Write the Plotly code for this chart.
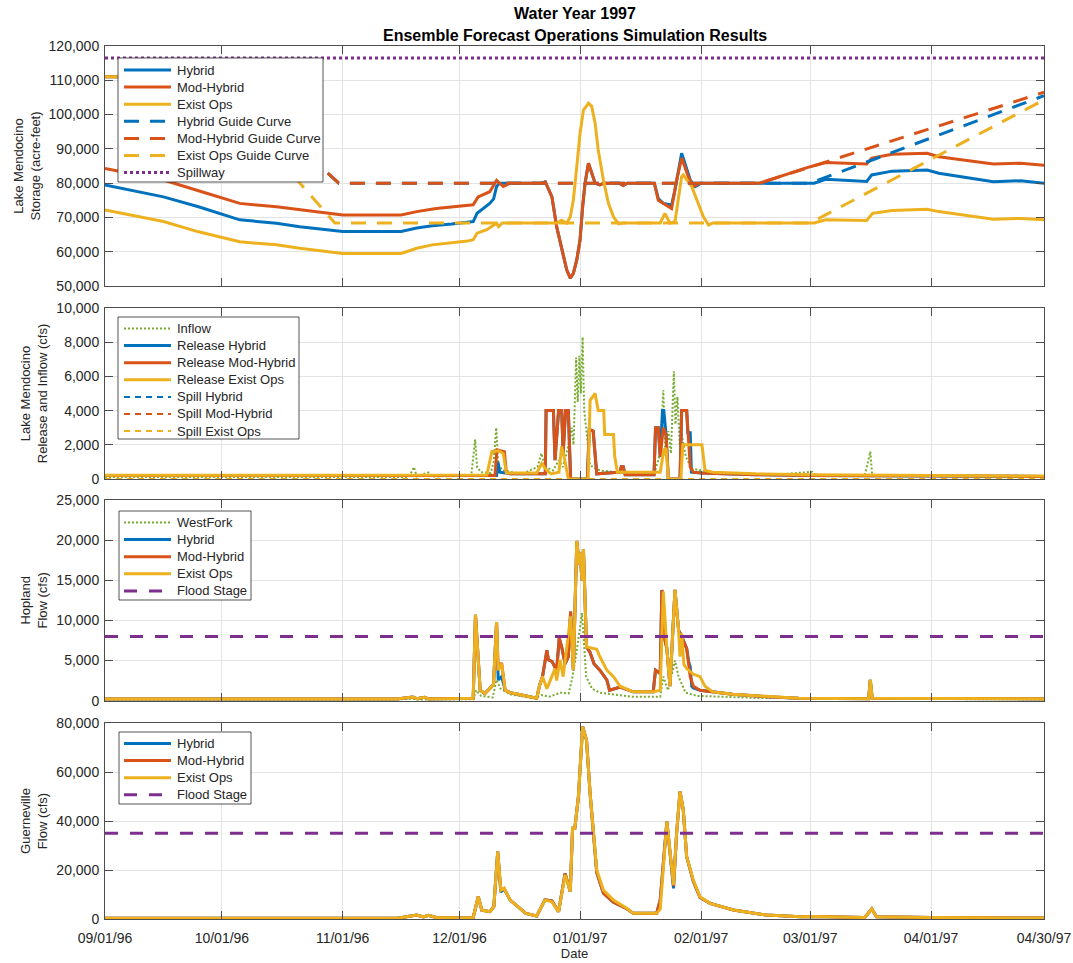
import plotly.graph_objects as go
from plotly.subplots import make_subplots

# ---------------------------------------------------------------- colours
BLUE = "#0072BD"
ORANGE = "#D95319"
YELLOW = "#EDB120"
PURPLE = "#7E2F8E"
GREEN = "#77AC30"

# ---------------------------------------------------------------- axis ticks
DATE_TICKS = ["1996-09-01", "1996-10-01", "1996-11-01", "1996-12-01", "1997-01-01",
              "1997-02-01", "1997-03-01", "1997-04-01", "1997-04-30"]
DATE_LABELS = ["09/01/96", "10/01/96", "11/01/96", "12/01/96", "01/01/97",
               "02/01/97", "03/01/97", "04/01/97", "04/30/97"]

# ---------------------------------------------------------------- Lake Mendocino storage (acre-feet)
SPILLWAY = [("1996-09-01", 116500), ("1997-04-30", 116500)]

GUIDE_HYBRID = [("1996-09-01", 111000), ("1996-10-01", 111000), ("1996-10-31", 80000),
                ("1997-03-01", 80000), ("1997-04-30", 105500)]
GUIDE_MODHYB = [("1996-09-01", 111000), ("1996-10-01", 111000), ("1996-10-31", 80000),
                ("1997-02-16", 80000), ("1997-04-30", 106500)]
GUIDE_EXIST = [("1996-09-01", 111000), ("1996-09-27", 111000), ("1996-10-30", 68400),
               ("1997-03-01", 68400), ("1997-04-30", 104300)]

STOR_HYBRID = [
    ("1996-09-01", 79500), ("1996-09-16", 76000), ("1996-09-25", 73100), ("1996-10-05 14:00", 69300),
    ("1996-10-15", 68300), ("1996-10-21", 67300), ("1996-11-01", 65900), ("1996-11-16", 65900),
    ("1996-11-20", 66900), ("1996-11-24", 67600), ("1996-11-29", 68100), ("1996-12-02", 68400),
    ("1996-12-04 12:00", 68800), ("1996-12-05 12:00", 71200), ("1996-12-07", 72500),
    ("1996-12-08 18:00", 74100), ("1996-12-09 18:00", 75400), ("1996-12-10 12:00", 79000),
    ("1996-12-11 06:00", 80000), ("1996-12-14", 80000), ("1996-12-22", 80000), ("1996-12-23", 80400),
    ("1996-12-24 17:00", 76000), ("1996-12-25 22:00", 67300), ("1996-12-27 14:00", 59500),
    ("1996-12-28 12:00", 54700), ("1996-12-29 10:00", 52300), ("1996-12-30 05:00", 53700),
    ("1996-12-31 02:00", 57600), ("1996-12-31 22:00", 63400), ("1997-01-01 14:00", 73100),
    ("1997-01-02 05:00", 80000), ("1997-01-03 02:00", 85800), ("1997-01-04", 83000),
    ("1997-01-04 19:00", 80000), ("1997-01-06", 79500), ("1997-01-07", 80000), ("1997-01-11", 80000),
    ("1997-01-12", 79300), ("1997-01-13", 80000), ("1997-01-20", 80000), ("1997-01-21", 75500),
    ("1997-01-22 07:00", 74100), ("1997-01-24 10:00", 73600), ("1997-01-25 07:00", 78000),
    ("1997-01-27", 88700), ("1997-01-29 05:00", 80900), ("1997-01-30 12:00", 79000),
    ("1997-02-01", 80000), ("1997-03-02", 80000), ("1997-03-05", 81100), ("1997-03-15 12:00", 80500),
    ("1997-03-16 19:00", 82400), ("1997-03-22", 83500), ("1997-03-31", 83800), ("1997-04-03", 82900),
    ("1997-04-17", 80400), ("1997-04-24", 80700), ("1997-04-30", 80000),
]
STOR_MODHYB = [
    ("1996-09-01", 84300), ("1996-09-16", 80900), ("1996-09-25", 77800), ("1996-10-05 14:00", 74100),
    ("1996-10-15", 73100), ("1996-10-21", 72200), ("1996-11-01", 70700), ("1996-11-16", 70700),
    ("1996-11-20", 71700), ("1996-11-25", 72600), ("1996-12-02", 73300), ("1996-12-04 12:00", 73700),
    ("1996-12-05 18:00", 76000), ("1996-12-08 18:00", 77500), ("1996-12-10 12:00", 80800),
    ("1996-12-12 05:00", 79000), ("1996-12-14", 80000), ("1996-12-22", 80000), ("1996-12-23", 80400),
    ("1996-12-24 17:00", 76000), ("1996-12-25 22:00", 67300), ("1996-12-27 14:00", 59500),
    ("1996-12-28 12:00", 54700), ("1996-12-29 10:00", 52300), ("1996-12-30 05:00", 53700),
    ("1996-12-31 02:00", 57600), ("1996-12-31 22:00", 63400), ("1997-01-01 14:00", 73100),
    ("1997-01-02 05:00", 80000), ("1997-01-03 02:00", 85800), ("1997-01-04", 83000),
    ("1997-01-04 19:00", 80000), ("1997-01-06", 79500), ("1997-01-07", 80000), ("1997-01-11", 80000),
    ("1997-01-12", 79300), ("1997-01-13", 80000), ("1997-01-20", 80000), ("1997-01-21", 75000),
    ("1997-01-23", 73600), ("1997-01-24 10:00", 72600), ("1997-01-25 17:00", 80900),
    ("1997-01-27", 87300), ("1997-01-28 17:00", 81900), ("1997-01-30", 79000),
    ("1997-01-31 17:00", 80000), ("1997-02-16", 80000), ("1997-03-01", 84800), ("1997-03-05", 86000),
    ("1997-03-15 12:00", 85600), ("1997-03-16 19:00", 87300), ("1997-03-22", 88400),
    ("1997-03-31", 88700), ("1997-04-03", 87700), ("1997-04-17", 85600), ("1997-04-24", 85800),
    ("1997-04-30", 85200),
]
STOR_EXIST = [
    ("1996-09-01", 72200), ("1996-09-16", 68800), ("1996-09-25", 65800), ("1996-10-05 14:00", 62900),
    ("1996-10-15", 62000), ("1996-10-21", 61000), ("1996-11-01", 59500), ("1996-11-16", 59500),
    ("1996-11-20", 61000), ("1996-11-24", 62000), ("1996-12-03", 63100), ("1996-12-04 12:00", 63500),
    ("1996-12-05 12:00", 65400), ("1996-12-08", 66400), ("1996-12-10 12:00", 68300),
    ("1996-12-11", 67300), ("1996-12-12", 68400), ("1996-12-26", 68400), ("1996-12-27 05:00", 69200),
    ("1996-12-28 12:00", 68300), ("1996-12-29 10:00", 70200), ("1996-12-30 05:00", 75100),
    ("1996-12-31 02:00", 84800), ("1996-12-31 22:00", 94500), ("1997-01-01 19:00", 101300),
    ("1997-01-03 02:00", 103300), ("1997-01-03 22:00", 102400), ("1997-01-04 19:00", 97500),
    ("1997-01-05 14:00", 89700), ("1997-01-06 22:00", 80900), ("1997-01-08 05:00", 74100),
    ("1997-01-09 12:00", 70200), ("1997-01-10 19:00", 68100), ("1997-01-12", 68400),
    ("1997-01-21 12:00", 68400), ("1997-01-22 17:00", 71200), ("1997-01-24", 68300),
    ("1997-01-25 07:00", 68800), ("1997-01-27", 81900), ("1997-01-27 10:00", 82400),
    ("1997-01-29 14:00", 79000), ("1997-02-01 14:00", 70200), ("1997-02-02 22:00", 67800),
    ("1997-02-04", 68400), ("1997-03-02", 68400), ("1997-03-05", 69300), ("1997-03-15 12:00", 69100),
    ("1997-03-17", 71200), ("1997-03-22", 72000), ("1997-03-31", 72400), ("1997-04-03", 71700),
    ("1997-04-17", 69500), ("1997-04-24", 69700), ("1997-04-30", 69300),
]

# ---------------------------------------------------------------- Lake Mendocino release and inflow (cfs)
INFLOW = [
    ("1996-09-01", 120), ("1996-10-01", 110), ("1996-11-01", 100), ("1996-11-18", 120),
    ("1996-11-19 08:00", 700), ("1996-11-20", 150), ("1996-11-23", 380), ("1996-11-24", 140),
    ("1996-12-04", 200), ("1996-12-05", 2300), ("1996-12-05 12:00", 700), ("1996-12-06 12:00", 400),
    ("1996-12-09", 350), ("1996-12-09 18:00", 1000), ("1996-12-10 10:00", 3000),
    ("1996-12-10 22:00", 900), ("1996-12-12", 500), ("1996-12-17", 300), ("1996-12-21", 700),
    ("1996-12-22", 1500), ("1996-12-23", 700), ("1996-12-25", 500), ("1996-12-26 12:00", 1100),
    ("1996-12-27 12:00", 700), ("1996-12-28 12:00", 1500), ("1996-12-29 19:00", 3000),
    ("1996-12-30 06:00", 2000), ("1996-12-30 22:00", 7100), ("1996-12-31 08:00", 4500),
    ("1996-12-31 18:00", 7200), ("1997-01-01 03:00", 5000), ("1997-01-01 14:00", 8300),
    ("1997-01-02 00:00", 4000), ("1997-01-02 14:00", 2600), ("1997-01-03 12:00", 800),
    ("1997-01-06", 500), ("1997-01-12", 350), ("1997-01-20", 350), ("1997-01-21 12:00", 1500),
    ("1997-01-22 07:00", 5200), ("1997-01-22 20:00", 1300), ("1997-01-23 14:00", 2800),
    ("1997-01-24 06:00", 1500), ("1997-01-25", 6300), ("1997-01-25 10:00", 3200),
    ("1997-01-25 22:00", 4800), ("1997-01-26 12:00", 2000), ("1997-01-27", 2600),
    ("1997-01-28 02:00", 1300), ("1997-01-29 14:00", 600), ("1997-02-05", 350), ("1997-02-20", 250),
    ("1997-03-01 12:00", 420), ("1997-03-02 12:00", 200), ("1997-03-15", 200),
    ("1997-03-16 10:00", 1600), ("1997-03-16 22:00", 200), ("1997-04-30", 130),
]
REL_HYBRID = [
    ("1996-09-01", 200), ("1996-10-15", 200), ("1996-11-01", 220), ("1996-11-30", 200),
    ("1996-12-10 12:00", 200), ("1996-12-10 20:00", 1000), ("1996-12-11 08:00", 400),
    ("1996-12-14", 300), ("1996-12-23", 300), ("1996-12-23 05:00", 4000), ("1996-12-25 02:00", 4000),
    ("1996-12-25 12:00", 1100), ("1996-12-26 10:00", 4000), ("1996-12-27 05:00", 4000),
    ("1996-12-27 14:00", 1500), ("1996-12-28 05:00", 4000), ("1996-12-28 22:00", 4000),
    ("1996-12-29 12:00", 0), ("1997-01-02 19:00", 0), ("1997-01-03 07:00", 2900),
    ("1997-01-04 07:00", 2800), ("1997-01-05 05:00", 300), ("1997-01-11 05:00", 400),
    ("1997-01-11 12:00", 720), ("1997-01-12", 720), ("1997-01-12 12:00", 250),
    ("1997-01-19 22:00", 250), ("1997-01-20 07:00", 3000), ("1997-01-21", 3000),
    ("1997-01-21 12:00", 1300), ("1997-01-22 02:00", 4000), ("1997-01-22 10:00", 4000),
    ("1997-01-23", 2600), ("1997-01-23 14:00", 0), ("1997-01-26 14:00", 0), ("1997-01-27", 4000),
    ("1997-01-28 07:00", 4000), ("1997-01-28 14:00", 2700), ("1997-01-29 05:00", 2700),
    ("1997-01-29 12:00", 400), ("1997-02-01", 350), ("1997-02-15", 250), ("1997-03-01", 200),
    ("1997-04-30", 150),
]
REL_MODHYB = [
    ("1996-09-01", 200), ("1996-10-15", 200), ("1996-11-01", 220), ("1996-11-30", 200),
    ("1996-12-10 02:00", 200), ("1996-12-10 14:00", 1700), ("1996-12-12 12:00", 1600),
    ("1996-12-13", 400), ("1996-12-14", 300), ("1996-12-23", 300), ("1996-12-23 05:00", 4000),
    ("1996-12-25 02:00", 4000), ("1996-12-25 12:00", 1100), ("1996-12-26 10:00", 4000),
    ("1996-12-27 05:00", 4000), ("1996-12-27 14:00", 1500), ("1996-12-28 05:00", 4000),
    ("1996-12-28 22:00", 4000), ("1996-12-29 12:00", 0), ("1997-01-02 19:00", 0),
    ("1997-01-03 07:00", 2900), ("1997-01-04 07:00", 2800), ("1997-01-05 05:00", 300),
    ("1997-01-11 05:00", 400), ("1997-01-11 12:00", 720), ("1997-01-12", 720),
    ("1997-01-12 12:00", 250), ("1997-01-19 22:00", 250), ("1997-01-20 07:00", 3000),
    ("1997-01-21", 3000), ("1997-01-21 12:00", 1300), ("1997-01-22 07:00", 3000),
    ("1997-01-23", 2600), ("1997-01-23 14:00", 0), ("1997-01-26 14:00", 0), ("1997-01-27", 4000),
    ("1997-01-28 07:00", 4000), ("1997-01-29 05:00", 700), ("1997-01-30", 400), ("1997-02-01", 350),
    ("1997-02-15", 250), ("1997-03-01", 200), ("1997-04-30", 150),
]
REL_EXIST = [
    ("1996-09-01", 220), ("1996-10-15", 220), ("1996-11-01", 230), ("1996-12-08", 230),
    ("1996-12-09 07:00", 1600), ("1996-12-11", 1650), ("1996-12-12 05:00", 1500), ("1996-12-13", 350),
    ("1996-12-20 19:00", 350), ("1996-12-22 02:00", 900), ("1996-12-23 10:00", 500),
    ("1996-12-24 12:00", 300), ("1996-12-26 12:00", 400), ("1996-12-27 05:00", 1900),
    ("1996-12-27 20:00", 1300), ("1996-12-28 22:00", 0), ("1997-01-03 00:00", 0),
    ("1997-01-03 12:00", 4600), ("1997-01-04 19:00", 5000), ("1997-01-05 14:00", 4000),
    ("1997-01-07", 4000), ("1997-01-07 06:00", 2600), ("1997-01-09 12:00", 2600),
    ("1997-01-09 20:00", 1300), ("1997-01-10 12:00", 400), ("1997-01-21 12:00", 400),
    ("1997-01-22 10:00", 1700), ("1997-01-23", 1800), ("1997-01-23 14:00", 0),
    ("1997-01-26 19:00", 0), ("1997-01-27 07:00", 2000), ("1997-02-01 05:00", 2000),
    ("1997-02-02", 500), ("1997-02-04", 400), ("1997-02-15", 300), ("1997-03-01", 250),
    ("1997-04-30", 170),
]
SPILL_HYBRID = [("1996-09-01", 0), ("1997-04-30", 0)]
SPILL_MODHYB = [("1996-09-01", 0), ("1997-04-30", 0)]
SPILL_EXIST = [("1996-09-01", 0), ("1997-04-30", 0)]

# ---------------------------------------------------------------- Hopland flow (cfs)
HOP_FLOOD = [("1996-09-01", 8000), ("1997-04-30", 8000)]
WESTFORK = [
    ("1996-09-01", 110), ("1996-11-15", 120), ("1996-11-19", 250), ("1996-11-20", 130),
    ("1996-12-04 12:00", 150), ("1996-12-05 06:00", 1300), ("1996-12-06 12:00", 600),
    ("1996-12-09 12:00", 400), ("1996-12-10 12:00", 2600), ("1996-12-11 12:00", 1500),
    ("1996-12-14", 800), ("1996-12-20", 300), ("1996-12-22", 700), ("1996-12-24", 500),
    ("1996-12-27", 1000), ("1996-12-29", 900), ("1996-12-30", 3000), ("1996-12-31", 6000),
    ("1997-01-01 10:00", 10900), ("1997-01-01 18:00", 8400), ("1997-01-02 12:00", 3000),
    ("1997-01-04", 1500), ("1997-01-06", 1000), ("1997-01-14", 500), ("1997-01-21 12:00", 500),
    ("1997-01-22 07:00", 3000), ("1997-01-23 12:00", 1300), ("1997-01-25 07:00", 5000),
    ("1997-01-26 05:00", 3000), ("1997-01-28", 1000), ("1997-01-31", 600), ("1997-02-15", 350),
    ("1997-03-16", 250), ("1997-03-16 10:00", 900), ("1997-03-17", 250), ("1997-04-30", 150),
]
HOP_HYBRID = [
    ("1996-09-01", 200), ("1996-10-15", 180), ("1996-11-15", 200), ("1996-11-19", 450),
    ("1996-11-20", 250), ("1996-11-22", 420), ("1996-11-23", 220), ("1996-12-04 12:00", 300),
    ("1996-12-05 02:00", 10700), ("1996-12-06 07:00", 1300), ("1996-12-07 12:00", 900),
    ("1996-12-09 17:00", 2000), ("1996-12-10 12:00", 9800), ("1996-12-10 22:00", 2600),
    ("1996-12-11 19:00", 3000), ("1996-12-12 17:00", 1300), ("1996-12-14", 1000), ("1996-12-16", 800),
    ("1996-12-20", 400), ("1996-12-20 19:00", 300), ("1996-12-21 14:00", 2000),
    ("1996-12-22 07:00", 3000), ("1996-12-23 10:00", 6300), ("1996-12-23 19:00", 5100),
    ("1996-12-24 17:00", 4900), ("1996-12-25 22:00", 3800), ("1996-12-26 14:00", 7800),
    ("1996-12-27 05:00", 6700), ("1996-12-28 02:00", 4600), ("1996-12-28 22:00", 5500),
    ("1996-12-29 12:00", 11100), ("1996-12-30 05:00", 3800), ("1996-12-31 02:00", 19900),
    ("1996-12-31 17:00", 17000), ("1996-12-31 22:00", 18400), ("1997-01-01 10:00", 15000),
    ("1997-01-01 19:00", 18900), ("1997-01-02 05:00", 12500), ("1997-01-02 14:00", 6700),
    ("1997-01-03 12:00", 6000), ("1997-01-04 12:00", 4600), ("1997-01-06", 3800),
    ("1997-01-07 19:00", 2600), ("1997-01-08 12:00", 1300), ("1997-01-11 05:00", 1700),
    ("1997-01-14 14:00", 1100), ("1997-01-19 17:00", 1100), ("1997-01-20 07:00", 3800),
    ("1997-01-21 12:00", 3400), ("1997-01-21 22:00", 13800), ("1997-01-22 12:00", 8000),
    ("1997-01-23 05:00", 6500), ("1997-01-24", 1800), ("1997-01-25 07:00", 13800),
    ("1997-01-26 05:00", 8800), ("1997-01-27", 8000), ("1997-01-28 07:00", 6500),
    ("1997-01-28 20:00", 4800), ("1997-01-29 05:00", 4200), ("1997-01-29 14:00", 1800),
    ("1997-01-30", 1600), ("1997-01-31 17:00", 1300), ("1997-02-04", 1100), ("1997-02-09", 800),
    ("1997-02-17 19:00", 500), ("1997-02-26", 300), ("1997-03-16", 250), ("1997-03-16 10:00", 2600),
    ("1997-03-16 22:00", 300), ("1997-04-30", 220),
]
HOP_MODHYB = [
    ("1996-09-01", 200), ("1996-10-15", 180), ("1996-11-15", 200), ("1996-11-19", 450),
    ("1996-11-20", 250), ("1996-11-22", 420), ("1996-11-23", 220), ("1996-12-04 12:00", 300),
    ("1996-12-05 02:00", 10700), ("1996-12-06 07:00", 1300), ("1996-12-07 12:00", 900),
    ("1996-12-09 17:00", 2000), ("1996-12-10 12:00", 9800), ("1996-12-10 22:00", 3800),
    ("1996-12-11 19:00", 4700), ("1996-12-12 17:00", 1300), ("1996-12-14", 1000), ("1996-12-16", 800),
    ("1996-12-20", 400), ("1996-12-20 19:00", 300), ("1996-12-21 14:00", 2000),
    ("1996-12-22 07:00", 3000), ("1996-12-23 10:00", 6300), ("1996-12-23 19:00", 5100),
    ("1996-12-24 17:00", 4900), ("1996-12-25 22:00", 3800), ("1996-12-26 14:00", 7800),
    ("1996-12-27 05:00", 6700), ("1996-12-28 02:00", 4600), ("1996-12-28 22:00", 5500),
    ("1996-12-29 12:00", 11100), ("1996-12-30 05:00", 3800), ("1996-12-31 02:00", 19900),
    ("1996-12-31 17:00", 17000), ("1996-12-31 22:00", 18400), ("1997-01-01 10:00", 15000),
    ("1997-01-01 19:00", 18900), ("1997-01-02 05:00", 12500), ("1997-01-02 14:00", 6700),
    ("1997-01-03 12:00", 6000), ("1997-01-04 12:00", 4600), ("1997-01-06", 3800),
    ("1997-01-07 19:00", 2600), ("1997-01-08 12:00", 1300), ("1997-01-11 05:00", 1700),
    ("1997-01-14 14:00", 1100), ("1997-01-19 17:00", 1100), ("1997-01-20 07:00", 3800),
    ("1997-01-21 12:00", 3400), ("1997-01-21 22:00", 13800), ("1997-01-22 12:00", 8000),
    ("1997-01-23 05:00", 6500), ("1997-01-24", 1800), ("1997-01-25 07:00", 13800),
    ("1997-01-26 05:00", 8800), ("1997-01-27", 8000), ("1997-01-28 07:00", 6500),
    ("1997-01-29 05:00", 3000), ("1997-01-30", 1800), ("1997-01-31 17:00", 1300),
    ("1997-02-04", 1100), ("1997-02-09", 800), ("1997-02-17 19:00", 500), ("1997-02-26", 300),
    ("1997-03-16", 250), ("1997-03-16 10:00", 2600), ("1997-03-16 22:00", 300), ("1997-04-30", 220),
]
HOP_EXIST = [
    ("1996-09-01", 200), ("1996-10-15", 180), ("1996-11-15", 200), ("1996-11-19", 450),
    ("1996-11-20", 250), ("1996-11-22", 420), ("1996-11-23", 220), ("1996-12-04 12:00", 300),
    ("1996-12-05 02:00", 10700), ("1996-12-06 07:00", 1300), ("1996-12-07 12:00", 900),
    ("1996-12-09 17:00", 2000), ("1996-12-10 12:00", 9800), ("1996-12-10 22:00", 3800),
    ("1996-12-11 19:00", 4600), ("1996-12-12 17:00", 1300), ("1996-12-14", 1000), ("1996-12-16", 800),
    ("1996-12-20", 400), ("1996-12-20 19:00", 300), ("1996-12-21 14:00", 2000),
    ("1996-12-22 07:00", 3000), ("1996-12-23 10:00", 1500), ("1996-12-24 05:00", 2500),
    ("1996-12-25 12:00", 4000), ("1996-12-25 22:00", 2500), ("1996-12-26 19:00", 5100),
    ("1996-12-27 14:00", 3000), ("1996-12-28 22:00", 8800), ("1996-12-29 12:00", 10500),
    ("1996-12-30 05:00", 3800), ("1996-12-31 02:00", 19900), ("1996-12-31 17:00", 17000),
    ("1996-12-31 22:00", 18400), ("1997-01-01 10:00", 15000), ("1997-01-01 19:00", 18900),
    ("1997-01-02 05:00", 12500), ("1997-01-02 14:00", 6700), ("1997-01-03 12:00", 6600),
    ("1997-01-05 05:00", 6400), ("1997-01-06", 5500), ("1997-01-07 19:00", 3800),
    ("1997-01-09 12:00", 3000), ("1997-01-11 05:00", 1800), ("1997-01-14 14:00", 1100),
    ("1997-01-19 17:00", 1100), ("1997-01-21 12:00", 1300), ("1997-01-22 07:00", 13600),
    ("1997-01-23 05:00", 6500), ("1997-01-24", 1800), ("1997-01-25 07:00", 13800),
    ("1997-01-26 05:00", 8800), ("1997-01-26 14:00", 5500), ("1997-01-27", 8400),
    ("1997-01-27 14:00", 4500), ("1997-01-28 07:00", 4000), ("1997-01-30", 3300),
    ("1997-01-31 17:00", 3000), ("1997-02-02", 1800), ("1997-02-04", 1100), ("1997-02-09", 800),
    ("1997-02-17 19:00", 500), ("1997-02-26", 300), ("1997-03-16", 250), ("1997-03-16 10:00", 2600),
    ("1997-03-16 22:00", 300), ("1997-04-30", 220),
]

# ---------------------------------------------------------------- Guerneville flow (cfs)
GUE_FLOOD = [("1996-09-01", 35000), ("1997-04-30", 35000)]
GUE_HYBRID = [
    ("1996-09-01", 300), ("1996-10-15", 250), ("1996-11-15", 300), ("1996-11-20", 1600),
    ("1996-11-21 18:00", 800), ("1996-11-23", 1500), ("1996-11-25", 600), ("1996-12-03", 400),
    ("1996-12-04 12:00", 600), ("1996-12-05 19:00", 9100), ("1996-12-06 17:00", 3600),
    ("1996-12-08 19:00", 3000), ("1996-12-09 19:00", 5000), ("1996-12-10 19:00", 27500),
    ("1996-12-11 14:00", 11000), ("1996-12-12 10:00", 12300), ("1996-12-14", 7700),
    ("1996-12-18", 2300), ("1996-12-20 19:00", 1200), ("1996-12-22 22:00", 7800),
    ("1996-12-24 17:00", 7400), ("1996-12-26 10:00", 3000), ("1996-12-28 02:00", 18600),
    ("1996-12-29 10:00", 11200), ("1996-12-30", 37000), ("1996-12-30 14:00", 37000),
    ("1996-12-31 12:00", 49900), ("1997-01-01 14:00", 78500), ("1997-01-02 14:00", 73000),
    ("1997-01-03 12:00", 51300), ("1997-01-05 05:00", 19000), ("1997-01-06 22:00", 10500),
    ("1997-01-09 12:00", 6800), ("1997-01-12 22:00", 4200), ("1997-01-14 14:00", 2300),
    ("1997-01-20 14:00", 2300), ("1997-01-21 12:00", 7700), ("1997-01-23 05:00", 39700),
    ("1997-01-24", 28200), ("1997-01-24 22:00", 12500), ("1997-01-25 17:00", 35000),
    ("1997-01-26 14:00", 52000), ("1997-01-27 10:00", 44500), ("1997-01-28 07:00", 25400),
    ("1997-01-30", 15400), ("1997-01-31 17:00", 8800), ("1997-02-03 07:00", 6400),
    ("1997-02-06 17:00", 5000), ("1997-02-09 07:00", 3700), ("1997-02-17 19:00", 1600),
    ("1997-02-26 10:00", 950), ("1997-03-02", 1000), ("1997-03-15", 600), ("1997-03-16 19:00", 4100),
    ("1997-03-18", 900), ("1997-04-01", 600), ("1997-04-30", 400),
]
GUE_MODHYB = [
    ("1996-09-01", 300), ("1996-10-15", 250), ("1996-11-15", 300), ("1996-11-20", 1600),
    ("1996-11-21 18:00", 800), ("1996-11-23", 1500), ("1996-11-25", 600), ("1996-12-03", 400),
    ("1996-12-04 12:00", 600), ("1996-12-05 19:00", 9100), ("1996-12-06 17:00", 3600),
    ("1996-12-08 19:00", 3000), ("1996-12-09 19:00", 5000), ("1996-12-10 19:00", 27500),
    ("1996-12-11 14:00", 11800), ("1996-12-12 10:00", 12500), ("1996-12-14", 7700),
    ("1996-12-18", 2300), ("1996-12-20 19:00", 1200), ("1996-12-22 22:00", 7800),
    ("1996-12-24 17:00", 7400), ("1996-12-26 10:00", 3000), ("1996-12-28 02:00", 18600),
    ("1996-12-29 10:00", 11200), ("1996-12-30", 37000), ("1996-12-30 14:00", 37000),
    ("1996-12-31 12:00", 49900), ("1997-01-01 14:00", 78500), ("1997-01-02 14:00", 73000),
    ("1997-01-03 12:00", 51300), ("1997-01-05 05:00", 19000), ("1997-01-06 22:00", 10500),
    ("1997-01-09 12:00", 6800), ("1997-01-12 22:00", 4200), ("1997-01-14 14:00", 2300),
    ("1997-01-20 14:00", 2300), ("1997-01-21 12:00", 7700), ("1997-01-23 05:00", 39700),
    ("1997-01-24", 28200), ("1997-01-24 22:00", 13400), ("1997-01-25 17:00", 35000),
    ("1997-01-26 14:00", 52000), ("1997-01-27 10:00", 44500), ("1997-01-28 07:00", 25400),
    ("1997-01-30", 15400), ("1997-01-31 17:00", 8800), ("1997-02-03 07:00", 6400),
    ("1997-02-06 17:00", 5000), ("1997-02-09 07:00", 3700), ("1997-02-17 19:00", 1600),
    ("1997-02-26 10:00", 950), ("1997-03-02", 1000), ("1997-03-15", 600), ("1997-03-16 19:00", 4100),
    ("1997-03-18", 900), ("1997-04-01", 600), ("1997-04-30", 400),
]
GUE_EXIST = [
    ("1996-09-01", 300), ("1996-10-15", 250), ("1996-11-15", 300), ("1996-11-20", 1600),
    ("1996-11-21 18:00", 800), ("1996-11-23", 1500), ("1996-11-25", 600), ("1996-12-03", 400),
    ("1996-12-04 12:00", 600), ("1996-12-05 19:00", 9100), ("1996-12-06 17:00", 3600),
    ("1996-12-08 19:00", 3000), ("1996-12-09 19:00", 5000), ("1996-12-10 19:00", 27500),
    ("1996-12-11 14:00", 11800), ("1996-12-12 10:00", 12500), ("1996-12-14", 7700),
    ("1996-12-18", 2300), ("1996-12-20 19:00", 1200), ("1996-12-22 22:00", 7700),
    ("1996-12-24 17:00", 7000), ("1996-12-26 10:00", 3000), ("1996-12-28 02:00", 18000),
    ("1996-12-29 10:00", 11200), ("1996-12-30", 37000), ("1996-12-30 14:00", 37000),
    ("1996-12-31 12:00", 49900), ("1997-01-01 14:00", 78500), ("1997-01-02 14:00", 73000),
    ("1997-01-03 12:00", 51300), ("1997-01-05 05:00", 20000), ("1997-01-06 22:00", 11800),
    ("1997-01-09 12:00", 7700), ("1997-01-12 22:00", 4400), ("1997-01-14 14:00", 2300),
    ("1997-01-20 14:00", 2300), ("1997-01-21 12:00", 4000), ("1997-01-23 05:00", 39700),
    ("1997-01-24", 28200), ("1997-01-24 22:00", 13900), ("1997-01-25 17:00", 35000),
    ("1997-01-26 14:00", 52000), ("1997-01-27 10:00", 44500), ("1997-01-28 07:00", 25400),
    ("1997-01-30", 15900), ("1997-01-31 17:00", 9100), ("1997-02-03 07:00", 6400),
    ("1997-02-06 17:00", 5000), ("1997-02-09 07:00", 3700), ("1997-02-17 19:00", 1600),
    ("1997-02-26 10:00", 950), ("1997-03-02", 1000), ("1997-03-15", 600), ("1997-03-16 19:00", 4100),
    ("1997-03-18", 900), ("1997-04-01", 600), ("1997-04-30", 400),
]

# ---------------------------------------------------------------- figure
FONT = "Liberation Sans, Arial, Helvetica, sans-serif"
INK = "#262626"

GUIDE_DASH = "15px,11px"
FLOOD_DASH = "13px,12px"
SPILLWAY_DOT = "3px,3px"
FLOW_DOT = "2px,2px"
SPILL_DASH = "6px,5px"

# (panel, data, legend label, colour, width, dash)
SERIES = [
    (1, STOR_HYBRID, "Hybrid", BLUE, 3, None),
    (1, STOR_MODHYB, "Mod-Hybrid", ORANGE, 3, None),
    (1, STOR_EXIST, "Exist Ops", YELLOW, 3, None),
    (1, GUIDE_HYBRID, "Hybrid Guide Curve", BLUE, 3, GUIDE_DASH),
    (1, GUIDE_MODHYB, "Mod-Hybrid Guide Curve", ORANGE, 3, GUIDE_DASH),
    (1, GUIDE_EXIST, "Exist Ops Guide Curve", YELLOW, 3, GUIDE_DASH),
    (1, SPILLWAY, "Spillway", PURPLE, 3, SPILLWAY_DOT),
    (2, INFLOW, "Inflow", GREEN, 2, FLOW_DOT),
    (2, REL_HYBRID, "Release Hybrid", BLUE, 3, None),
    (2, REL_MODHYB, "Release Mod-Hybrid", ORANGE, 3, None),
    (2, REL_EXIST, "Release Exist Ops", YELLOW, 3, None),
    (2, SPILL_HYBRID, "Spill Hybrid", BLUE, 2, SPILL_DASH),
    (2, SPILL_MODHYB, "Spill Mod-Hybrid", ORANGE, 2, SPILL_DASH),
    (2, SPILL_EXIST, "Spill Exist Ops", YELLOW, 2, SPILL_DASH),
    (3, WESTFORK, "WestFork", GREEN, 2, FLOW_DOT),
    (3, HOP_HYBRID, "Hybrid", BLUE, 3, None),
    (3, HOP_MODHYB, "Mod-Hybrid", ORANGE, 3, None),
    (3, HOP_EXIST, "Exist Ops", YELLOW, 3, None),
    (3, HOP_FLOOD, "Flood Stage", PURPLE, 3, FLOOD_DASH),
    (4, GUE_HYBRID, "Hybrid", BLUE, 3, None),
    (4, GUE_MODHYB, "Mod-Hybrid", ORANGE, 3, None),
    (4, GUE_EXIST, "Exist Ops", YELLOW, 3, None),
    (4, GUE_FLOOD, "Flood Stage", PURPLE, 3, FLOOD_DASH),
]

fig = make_subplots(rows=4, cols=1, shared_xaxes=True)

for row, pts, name, color, width, dash in SERIES:
    line = dict(color=color, width=width)
    if dash:
        line["dash"] = dash
    fig.add_trace(go.Scatter(x=[p[0] for p in pts], y=[p[1] for p in pts], mode="lines",
                             name=name, line=line, showlegend=False, hoverinfo="skip"),
                  row=row, col=1)

# layout geometry (pixels)
L, R, T, B = 105, 29, 46, 44
W, H = 1073, 963
PH = H - T - B
PW = W - L - R


def py(px):
    return (H - B - px) / PH


def pxx(px):
    return (px - L) / PW


domains = [(py(286), 1.0), (py(479), py(308)), (py(700.7), py(500)), (0.0, py(723))]
y_ranges = [(50000, 120000), (0, 10000), (0, 25000), (0, 80000)]
y_dticks = [10000, 2000, 5000, 20000]
y_titles = ["Lake Mendocino<br>Storage (acre-feet)",
            "Lake Mendocino<br>Release and Inflow (cfs)",
            "Hopland<br>Flow (cfs)",
            "Guerneville<br>Flow (cfs)"]

axis_common = dict(showline=True, linecolor="#4d4d4d", linewidth=1, mirror="ticks",
                   ticks="inside", ticklen=8, tickcolor="#4d4d4d", tickwidth=1,
                   showgrid=True, gridcolor="#e3e3e3", gridwidth=1, zeroline=False,
                   automargin=False,
                   tickfont=dict(family=FONT, size=14, color=INK))

for i in range(4):
    fig.update_yaxes(row=i + 1, col=1, domain=list(domains[i]), range=list(y_ranges[i]),
                     dtick=y_dticks[i], tick0=0, tickformat=",d", ticklabelstandoff=2,
                     title=dict(text=y_titles[i], standoff=5,
                                font=dict(family=FONT, size=13, color=INK)),
                     **axis_common)
    fig.update_xaxes(row=i + 1, col=1, range=["1996-09-01", "1997-04-30"],
                     tickmode="array", tickvals=DATE_TICKS, ticktext=DATE_LABELS,
                     showticklabels=(i == 3), **axis_common)

fig.update_xaxes(row=4, col=1, ticklabelstandoff=6,
                 title=dict(text="Date", standoff=4, font=dict(family=FONT, size=13, color=INK)))

# ---------------------------------------------------------------- legends (boxed, top-left of each panel)
LEGEND_BOXES = {1: (118, 323, 58, 182), 2: (118, 299, 317, 439),
                3: (119, 251, 511, 600), 4: (119, 251, 732, 804)}
LEGEND_ROW0 = {1: 70, 2: 328.5, 3: 522.5, 4: 743.5}
ROW_STEP = 17.1
SAMPLE_X0, SAMPLE_X1, TEXT_X = 124, 171, 175

shapes = []
annotations = []
for panel, (bx0, bx1, by0, by1) in LEGEND_BOXES.items():
    shapes.append(dict(type="rect", xref="paper", yref="paper", layer="above",
                       x0=pxx(bx0), x1=pxx(bx1), y0=py(by1), y1=py(by0),
                       fillcolor="white", line=dict(color=INK, width=0.8)))
    entries = [s for s in SERIES if s[0] == panel]
    for k, (_, _, name, color, width, dash) in enumerate(entries):
        yc = LEGEND_ROW0[panel] + k * ROW_STEP
        ln = dict(color=color, width=width)
        if dash:
            ln["dash"] = dash
        shapes.append(dict(type="line", xref="paper", yref="paper", layer="above",
                           x0=pxx(SAMPLE_X0), x1=pxx(SAMPLE_X1), y0=py(yc), y1=py(yc), line=ln))
        annotations.append(dict(text=name, x=pxx(TEXT_X), y=py(yc), xref="paper", yref="paper",
                                showarrow=False, xanchor="left", yanchor="middle",
                                font=dict(family=FONT, size=13, color=INK)))

annotations += [
    dict(text="<b>Water Year 1997</b>", x=0.5, y=py(14), xref="paper", yref="paper",
         showarrow=False, xanchor="center", yanchor="middle",
         font=dict(family=FONT, size=16, color="black")),
    dict(text="<b>Ensemble Forecast Operations Simulation Results</b>", x=0.5, y=py(35),
         xref="paper", yref="paper", showarrow=False, xanchor="center", yanchor="middle",
         font=dict(family=FONT, size=16, color="black")),
]

fig.update_layout(
    width=W, height=H,
    margin=dict(l=L, r=R, t=T, b=B, autoexpand=False),
    paper_bgcolor="white", plot_bgcolor="white",
    font=dict(family=FONT, color=INK),
    showlegend=False,
    shapes=shapes,
    annotations=annotations,
)

fig.write_html("out.html")
